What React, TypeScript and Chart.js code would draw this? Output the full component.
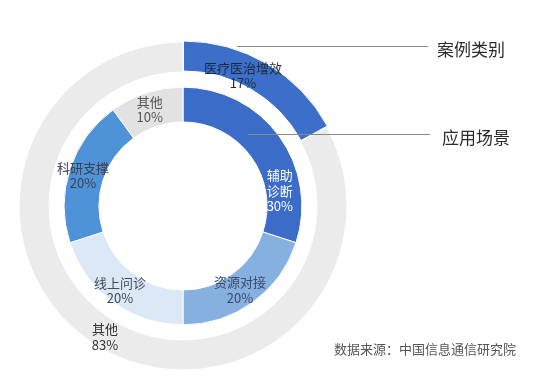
import React, { useEffect, useRef } from 'react';
import { Chart, registerables } from 'chart.js';

Chart.register(...registerables);

// ---- data ----
const outerCategories = ['医疗医治增效', '其他'];
const outerValues = [17, 83];
const innerCategories = ['辅助诊断', '资源对接', '线上问诊', '科研支撑', '其他'];
const innerValues = [30, 20, 20, 20, 10];
const ringTitles = ['案例类别', '应用场景'];
const sourceNote = '数据来源：中国信息通信研究院';

// ---- styles ----
const outerColors = ['#3b6fc9', '#ebebeb'];
const innerColors = ['#3a6cc8', '#86b0e0', '#dbe8f6', '#4e92d8', '#e2e2e2'];
const outerLabelStyle = [
  { angle: 24.7, r: 143.6, color: '#1f2a3a', wrap: 6 },
  { angle: 210.8, r: 152.5, color: '#333333', wrap: 6 },
];
const innerLabelStyle = [
  { angle: 81.2, r: 98, color: '#ffffff', wrap: 2 },
  { angle: 145.8, r: 101.5, color: '#3c4a66', wrap: 4 },
  { angle: 216.7, r: 105.4, color: '#404a5a', wrap: 4 },
  { angle: 287, r: 104.5, color: '#3a4250', wrap: 4 },
  { angle: 341, r: 102, color: '#555555', wrap: 4 },
];
const FONT = '"Noto Sans CJK SC", "Noto Sans", sans-serif';

function splitText(s: string, n: number): string[] {
  const out: string[] = [];
  for (let i = 0; i < s.length; i += n) out.push(s.slice(i, i + n));
  return out;
}

const labelPlugin = {
  id: 'ringLabels',
  afterDatasetsDraw(chart: any) {
    const ctx = chart.ctx as CanvasRenderingContext2D;
    const innerMeta = chart.getDatasetMeta(2);
    const ref = innerMeta.data[0];
    if (!ref) return;
    const cx = ref.x;
    const cy = ref.y;
    ctx.save();
    ctx.textAlign = 'center';
    ctx.textBaseline = 'middle';
    ctx.font = `13px ${FONT}`;
    const drawLabel = (name: string, val: number, st: any) => {
      const a = (st.angle * Math.PI) / 180;
      const x = cx + st.r * Math.sin(a);
      const y = cy - st.r * Math.cos(a);
      const lines = [...splitText(name, st.wrap), `${val}%`];
      const lh = 15.5;
      const y0 = y - ((lines.length - 1) * lh) / 2;
      ctx.fillStyle = st.color;
      lines.forEach((ln, i) => ctx.fillText(ln, x, y0 + i * lh));
    };
    outerCategories.forEach((c, i) => drawLabel(c, outerValues[i], outerLabelStyle[i]));
    innerCategories.forEach((c, i) => drawLabel(c, innerValues[i], innerLabelStyle[i]));

    // leader lines and ring titles
    ctx.strokeStyle = '#8a8a8a';
    ctx.lineWidth = 1;
    const leaders = [
      { x0: cx + 54, y: cy - 159.5, x1: cx + 245 },
      { x0: cx + 65, y: cy - 71.5, x1: cx + 247 },
    ];
    ctx.font = `17px ${FONT}`;
    ctx.fillStyle = '#2b2b2b';
    ctx.textAlign = 'left';
    leaders.forEach((l, i) => {
      ctx.beginPath();
      ctx.moveTo(l.x0, l.y);
      ctx.lineTo(l.x1, l.y);
      ctx.stroke();
      ctx.fillText(ringTitles[i], l.x1 + 9 + (i === 1 ? 3 : 0), l.y + 3);
    });

    // source note
    ctx.font = `13px ${FONT}`;
    ctx.fillStyle = '#555555';
    ctx.textAlign = 'right';
    ctx.fillText(sourceNote, 516, 349);
    ctx.restore();
  },
};

export default function App() {
  const ref = useRef<HTMLCanvasElement | null>(null);
  useEffect(() => {
    if (!ref.current) return;
    const chart = new Chart(ref.current, {
      type: 'doughnut',
      data: {
        labels: innerCategories,
        datasets: [
          {
            data: outerValues,
            backgroundColor: outerColors,
            borderColor: '#ffffff',
            borderWidth: 1,
            offset: [4, 0],
            hoverOffset: 4,
            weight: 30,
          } as any,
          {
            data: [1],
            backgroundColor: ['rgba(0,0,0,0)'],
            borderWidth: 0,
            hoverOffset: 4,
            weight: 16,
          } as any,
          {
            data: innerValues,
            backgroundColor: innerColors,
            borderColor: '#ffffff',
            borderWidth: 1,
            hoverOffset: 4,
            weight: 34,
          } as any,
        ],
      },
      options: {
        responsive: false,
        animation: false,
        events: [],
        cutout: 84,
        layout: { padding: { left: 16.5, top: 39.5, right: 200.5, bottom: 8.5 } },
        plugins: {
          legend: { display: false },
          tooltip: { enabled: false },
        },
      } as any,
      plugins: [labelPlugin],
    });
    return () => chart.destroy();
  }, []);
  return (
    <div style={{ position: 'absolute', left: 0, top: 0, width: 550, height: 381, background: '#ffffff' }}>
      <canvas ref={ref} width={550} height={381} style={{ display: 'block' }} />
    </div>
  );
}
